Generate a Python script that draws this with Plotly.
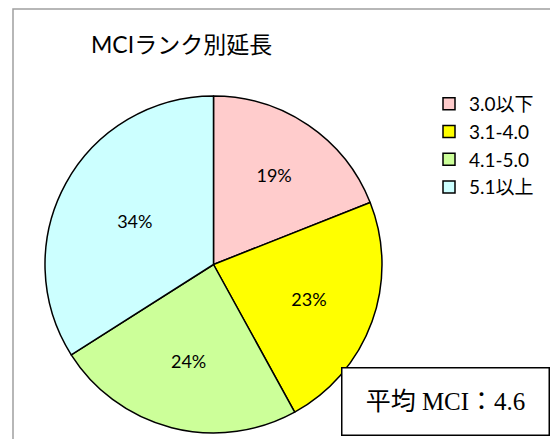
import plotly.graph_objects as go

categories = ["3.0以下", "3.1-4.0", "4.1-5.0", "5.1以上"]
shares = [19, 23, 24, 34]
colors = ["#FFCCCC", "#FFFF00", "#CCFF99", "#CCFFFF"]
title_text = "MCIランク別延長"
note_text = "平均 MCI：4.6"

# page has an 8px body margin, so figure fits the rest of the window
W, H = 550, 431
cx, cy, r = 205.5, 256.5, 168.5
FONT = "Lato, Noto Sans CJK JP"

fig = go.Figure(go.Pie(
    labels=categories,
    values=shares,
    sort=False,
    direction="clockwise",
    rotation=0,
    marker=dict(colors=colors, line=dict(color="black", width=1.5)),
    textinfo="percent",
    texttemplate="%{percent:.0%}",
    textposition="inside",
    insidetextorientation="horizontal",
    textfont=dict(family=FONT, size=18, color="black"),
    domain=dict(x=[(cx - r) / W, (cx + r) / W], y=[(H - cy - r) / H, (H - cy + r) / H]),
    hoverinfo="label+percent",
))

fig.update_layout(
    width=W, height=H,
    margin=dict(l=0, r=0, t=0, b=0),
    paper_bgcolor="white",
    plot_bgcolor="white",
    font=dict(family=FONT, color="black"),
    title=dict(text=title_text, x=83 / W, xanchor="left", y=1 - 37 / H, yanchor="middle",
               font=dict(size=23, family=FONT, color="black")),
    legend=dict(x=421 / W, y=1 - 77 / H, xanchor="left", yanchor="top",
                font=dict(size=19, family=FONT, color="black"),
                bgcolor="rgba(0,0,0,0)"),
    shapes=[dict(type="rect", xref="paper", yref="paper", x0=5 / W, x1=1.05, y0=-0.05, y1=1 - 1 / H,
                 line=dict(color="#A0A0A0", width=1.5), fillcolor="rgba(0,0,0,0)", layer="below")],
    annotations=[dict(text=note_text, xref="paper", yref="paper", x=437.5 / W, y=1 - 393.5 / H,
                      xanchor="center", yanchor="middle", showarrow=False,
                      font=dict(size=25, family="Liberation Serif, Noto Sans CJK JP", color="black"),
                      bordercolor="black", borderwidth=1.5, bgcolor="white",
                      width=204, height=64)],
)

fig.write_html("out.html")
